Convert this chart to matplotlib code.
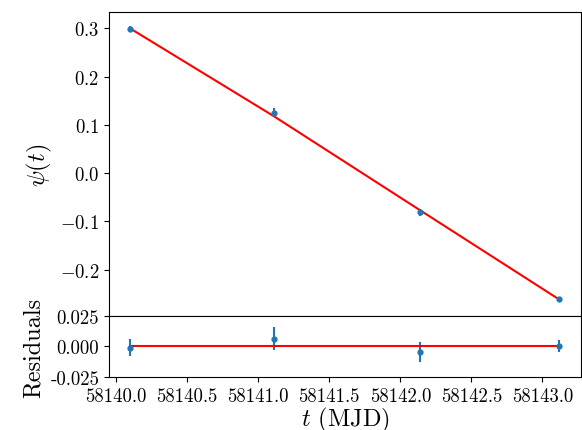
import numpy as np
import matplotlib
matplotlib.use("Agg")
import matplotlib.pyplot as plt

plt.rcParams["font.family"] = "serif"
plt.rcParams["font.serif"] = ["cmr10"]
plt.rcParams["mathtext.fontset"] = "cm"
plt.rcParams["axes.formatter.use_mathtext"] = True
plt.rcParams["axes.unicode_minus"] = True

# epochs (MJD), measured psi, fitted model, residuals and errors
t_mjd = [58140.10, 58141.11, 58142.14, 58143.12]
psi = [0.2986, 0.1250, -0.0814, -0.2613]
psi_fit = [0.2996, 0.1180, -0.0770, -0.2620]
resid = [-0.0010, 0.0064, -0.0046, 0.0006]
psi_err = [0.0070, 0.0093, 0.0080, 0.0050]

fig = plt.figure(figsize=(5.82, 4.31), dpi=100)
ax = fig.add_axes([0.1873, 0.2645, 0.8107, 0.7053])
axr = fig.add_axes([0.1873, 0.1230, 0.8107, 0.1415], sharex=ax)

ax.errorbar(t_mjd, psi, yerr=psi_err, fmt="o", ms=3.5, color="tab:blue")
ax.plot(t_mjd, psi_fit, color="red", lw=1.5)
ax.set_ylim(-0.296, 0.334)
ax.set_ylabel(r"$\psi(t)$", fontsize=17.5)
ax.tick_params(labelsize=13.5)
ax.tick_params(axis="x", labelbottom=False)

axr.errorbar(t_mjd, resid, yerr=psi_err, fmt="o", ms=3.5, color="tab:blue")
axr.plot(t_mjd, np.zeros(len(t_mjd)), color="red", lw=1.5)
axr.set_ylim(-0.025, 0.025)
axr.set_yticks([-0.025, 0.0, 0.025])
axr.set_ylabel("Residuals", fontsize=17.5)
axr.set_xlabel(r"$t$ (MJD)", fontsize=17.5, labelpad=0)
axr.tick_params(labelsize=13.5)
axr.xaxis.set_major_formatter(plt.FormatStrFormatter("%.1f"))
axr.yaxis.set_major_formatter(plt.FormatStrFormatter("%.3f"))

fig.savefig("out.png", dpi=100)
